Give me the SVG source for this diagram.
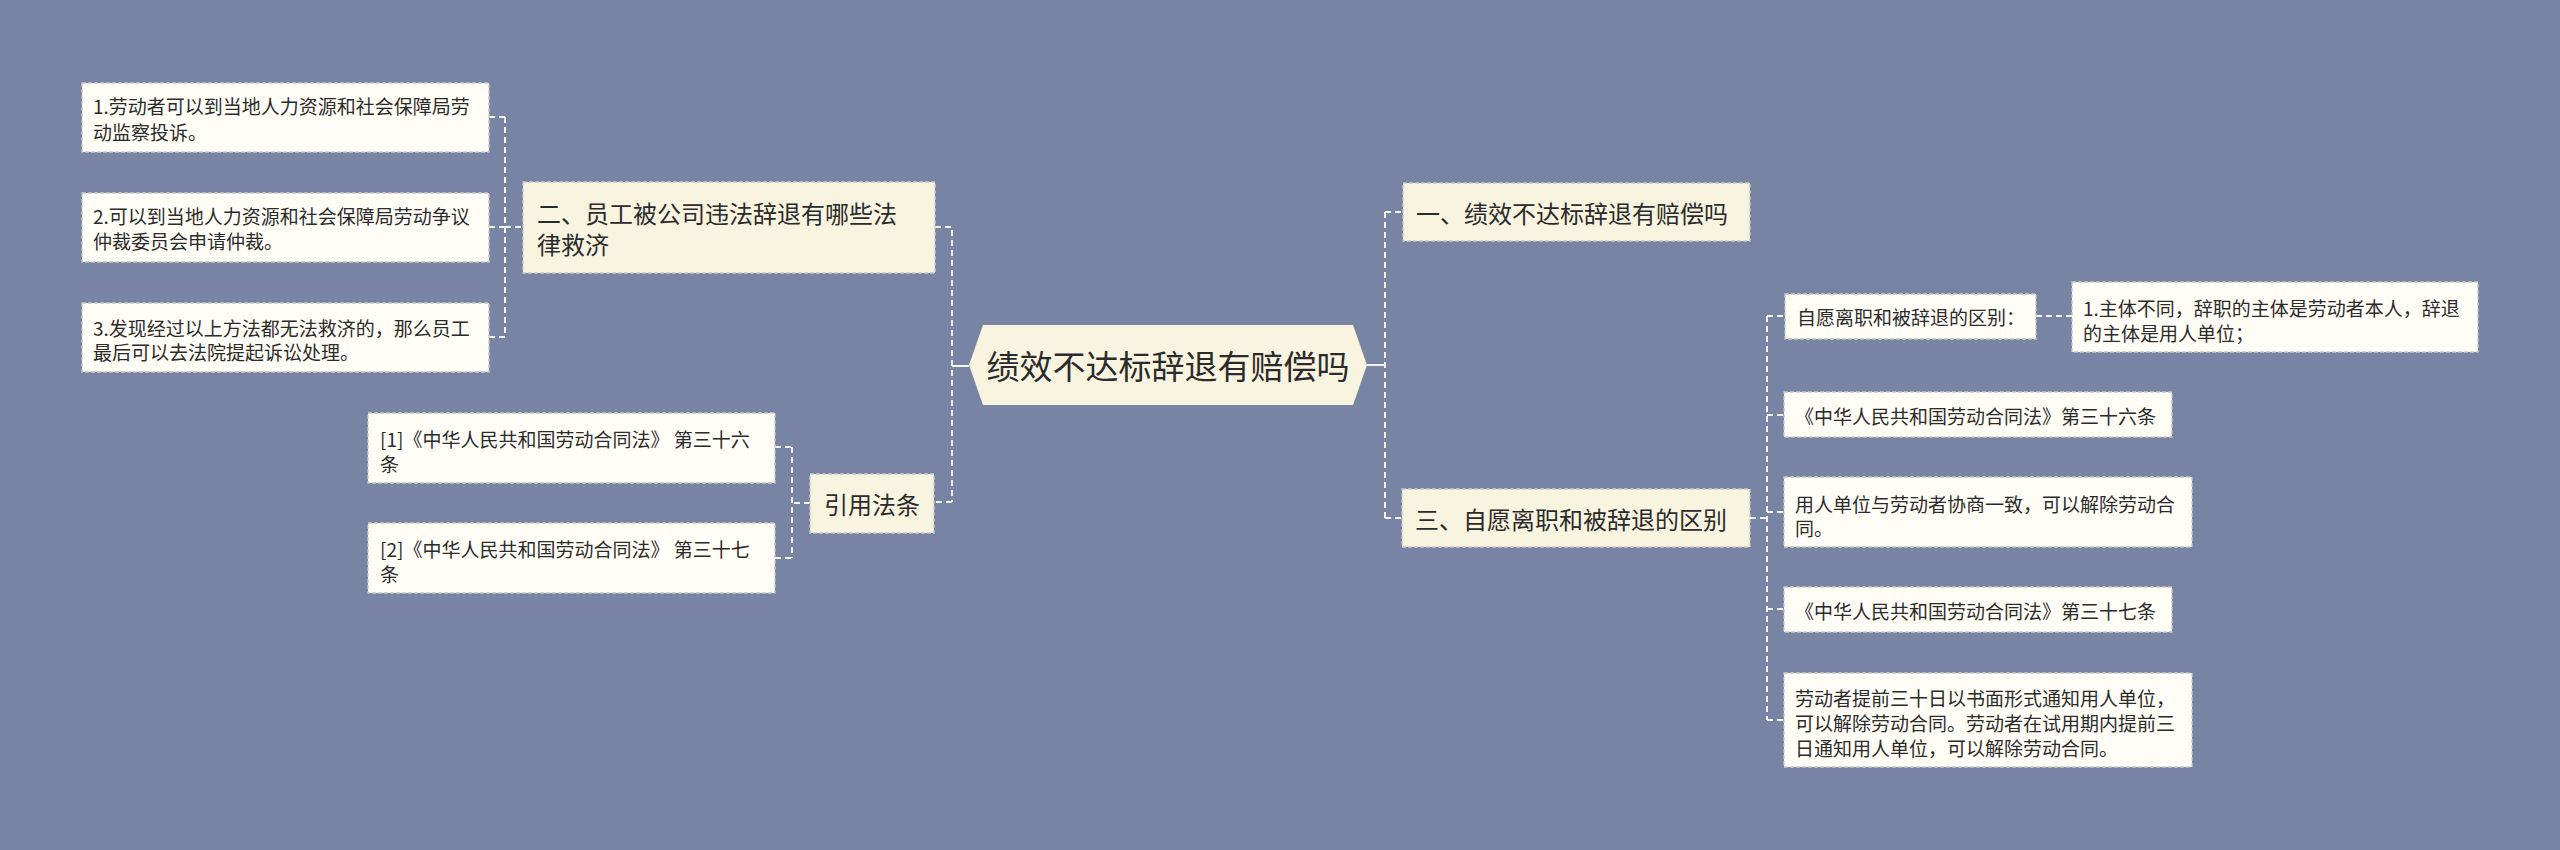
<svg xmlns="http://www.w3.org/2000/svg" width="2560" height="850" viewBox="0 0 2560 850">
<style>
text{font-family:"Noto Sans CJK SC","Noto Sans",sans-serif;fill:#2b2b2b;dominant-baseline:central}
.leaf{fill:#fffdf6;stroke:#c8c8c8;stroke-width:1.3;stroke-dasharray:4 2}
.br{fill:#f8f4e0;stroke:#c8c8c8;stroke-width:1.3;stroke-dasharray:4 2}
.t19{font-size:19px}
.t24{font-size:24px}
.conn path{fill:none;stroke:#f4f4f4;stroke-width:2;stroke-dasharray:6 4}
</style>
<rect width="2560" height="850" fill="#7884a3"/>
<g class="conn">
<path d="M489,117H505M489,227H505M489,337H505M505,117V337M505,227H523"/>
<path d="M935,227H952V502M952,502H934"/>
<path d="M952,366H969" style="stroke-dasharray:none"/>
<path d="M810,503H792M792,447V558M775,447H792M775,558H792"/>
<path d="M1367,365H1385" style="stroke-dasharray:none"/>
<path d="M1385,212V518M1385,212H1403M1385,518H1402"/>
<path d="M1750,518H1767M1767,316V720M1767,316H1785M1767,415H1784M1767,512H1784M1767,609H1784M1767,720H1784M2036,316H2072"/>
</g>
<g id="center">
<polygon points="969,365 983,325 1353,325 1367,365 1353,405 983,405" fill="#f8f4e0"/>
<text x="1168" y="365" font-size="33" text-anchor="middle">绩效不达标辞退有赔偿吗</text>
</g>
<g id="b2">
<rect class="br" x="523" y="182" width="412" height="91"/>
<text class="t24" x="537" y="212">二、员工被公司违法辞退有哪些法</text>
<text class="t24" x="537" y="243">律救济</text>
</g>
<g id="l1">
<rect class="leaf" x="82" y="83" width="407" height="69"/>
<text class="t19" x="93" y="105">1.劳动者可以到当地人力资源和社会保障局劳</text>
<text class="t19" x="93" y="131">动监察投诉。</text>
</g>
<g id="l2">
<rect class="leaf" x="82" y="193" width="407" height="69"/>
<text class="t19" x="93" y="215">2.可以到当地人力资源和社会保障局劳动争议</text>
<text class="t19" x="93" y="240">仲裁委员会申请仲裁。</text>
</g>
<g id="l3">
<rect class="leaf" x="82" y="303" width="407" height="69"/>
<text class="t19" x="93" y="327">3.发现经过以上方法都无法救济的，那么员工</text>
<text class="t19" x="93" y="351">最后可以去法院提起诉讼处理。</text>
</g>
<g id="cite">
<rect class="br" x="810" y="474" width="124" height="59"/>
<text class="t24" x="872" y="503" text-anchor="middle">引用法条</text>
</g>
<g id="r1">
<rect class="leaf" x="368" y="413" width="407" height="70"/>
<text class="t19" x="380" y="438">[1]《中华人民共和国劳动合同法》 第三十六</text>
<text class="t19" x="380" y="463">条</text>
</g>
<g id="r2">
<rect class="leaf" x="368" y="523" width="407" height="70"/>
<text class="t19" x="380" y="548">[2]《中华人民共和国劳动合同法》 第三十七</text>
<text class="t19" x="380" y="573">条</text>
</g>
<g id="b1">
<rect class="br" x="1403" y="183" width="347" height="58"/>
<text class="t24" x="1416" y="212">一、绩效不达标辞退有赔偿吗</text>
</g>
<g id="b3">
<rect class="br" x="1402" y="489" width="348" height="58"/>
<text class="t24" x="1415" y="518">三、自愿离职和被辞退的区别</text>
</g>
<g id="s1">
<rect class="leaf" x="1785" y="294" width="251" height="45"/>
<text class="t19" x="1797" y="316">自愿离职和被辞退的区别：</text>
</g>
<g id="s1a">
<rect class="leaf" x="2072" y="282" width="406" height="70"/>
<text class="t19" x="2083" y="307">1.主体不同，辞职的主体是劳动者本人，辞退</text>
<text class="t19" x="2083" y="332">的主体是用人单位；</text>
</g>
<g id="s2">
<rect class="leaf" x="1784" y="392" width="388" height="45"/>
<text class="t19" x="1795" y="415">《中华人民共和国劳动合同法》第三十六条</text>
</g>
<g id="s3">
<rect class="leaf" x="1784" y="477" width="408" height="70"/>
<text class="t19" x="1795" y="503">用人单位与劳动者协商一致，可以解除劳动合</text>
<text class="t19" x="1795" y="527">同。</text>
</g>
<g id="s4">
<rect class="leaf" x="1784" y="587" width="388" height="45"/>
<text class="t19" x="1795" y="610">《中华人民共和国劳动合同法》第三十七条</text>
</g>
<g id="s5">
<rect class="leaf" x="1784" y="673" width="408" height="94"/>
<text class="t19" x="1795" y="697">劳动者提前三十日以书面形式通知用人单位，</text>
<text class="t19" x="1795" y="722">可以解除劳动合同。劳动者在试用期内提前三</text>
<text class="t19" x="1795" y="747">日通知用人单位，可以解除劳动合同。</text>
</g>
</svg>
